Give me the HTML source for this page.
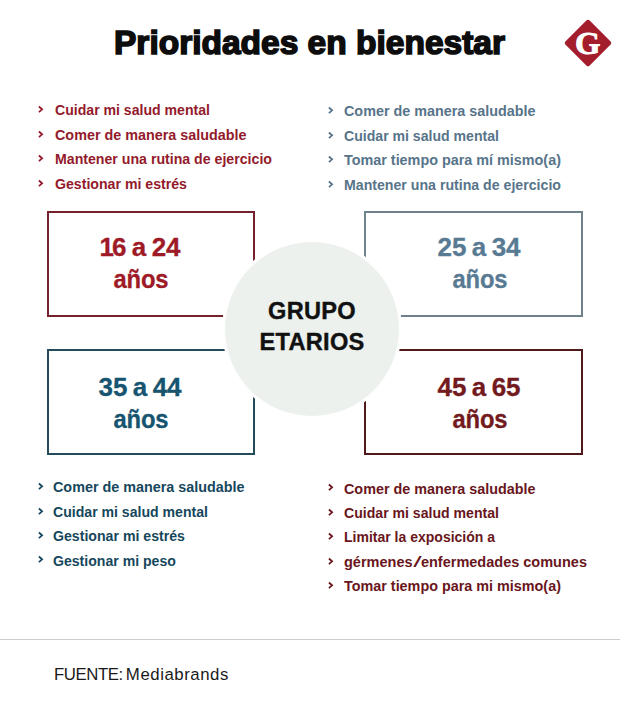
<!DOCTYPE html>
<html lang="es">
<head>
<meta charset="utf-8">
<title>Prioridades en bienestar</title>
<style>
  html, body { margin: 0; padding: 0; background: #fff; }
  body { width: 620px; height: 713px; position: relative; overflow: hidden;
         font-family: "Liberation Sans", Arial, sans-serif; }
  h1 { position: absolute; margin: 0; left: 114px; top: 22.9px; font-size: 33.5px; line-height: 40px;
       font-weight: 700; color: #0d0d0d; white-space: nowrap; -webkit-text-stroke: 1.6px #0d0d0d; }
  .logo { position: absolute; left: 571px; top: 26px; width: 34px; height: 34px; background: #a31d2c;
          transform: rotate(45deg); border-radius: 2px; }
  .logoG { position: absolute; left: 563.6px; top: 22.4px; width: 48px; height: 42px; text-align: center;
           font-family: "Liberation Serif", serif; font-weight: 700; font-size: 32.6px; line-height: 42px; color: #fff;
           -webkit-text-stroke: 0.9px #fff; }
  ul.list { position: absolute; margin: 0; padding: 0; list-style: none; font-size: 15px; font-weight: 700;
            line-height: 24.45px; white-space: nowrap; letter-spacing: 0px; }
  ul.list li { position: relative; height: 24.45px; }
  ul.list li .t { display: inline-block; transform-origin: 0 0; transform: scaleX(0.945); }
  ul.list li svg { position: absolute; left: var(--cx); top: 7.9px; width: 6px; height: 8px; overflow: visible; }
  .box { position: absolute; box-sizing: border-box; border: 2px solid; }
  .circle { position: absolute; left: 225.3px; top: 242px; width: 174px; height: 174px; border-radius: 50%;
            background: #ecf1ed; box-shadow: 0 0 0 3px #fff; }
  .age { position: absolute; width: 160px; font-weight: 700; font-size: 26px; line-height: 32px; text-align: center;
         white-space: nowrap; word-spacing: -1.8px; -webkit-text-stroke: 0.3px currentColor; }
  .age .y { display: inline-block; letter-spacing: -0.2px; transform: scaleX(0.915); position: relative; left: 1px; }
  .grupo { position: absolute; left: 212px; top: 295.5px; width: 200px; text-align: center; font-weight: 700;
           font-size: 23.6px; line-height: 31.7px; color: #111; letter-spacing: 0.3px; -webkit-text-stroke: 0.4px #111; }
  .rule { position: absolute; left: 0; top: 639px; width: 620px; height: 1px; background: #cdcdcd; }
  .src { position: absolute; left: 54px; top: 665px; font-size: 16.8px; line-height: 20px; color: #1a1a1a; white-space: nowrap; }
</style>
</head>
<body>
  <h1>Prioridades en bienestar</h1>
  <div class="logo"></div>
  <div class="logoG">G</div>

  <ul class="list" style="--cx:-17px; left:54.7px; top:98.3px; color:#931a2b;">
    <li><svg viewBox="0 0 6 8"><polyline points="0.9,0.5 4.1,3.3 0.9,6.1" fill="none" stroke="currentColor" stroke-width="1.75"/></svg><span class="t" style="transform:scaleX(0.939)">Cuidar mi salud mental</span></li>
    <li><svg viewBox="0 0 6 8"><polyline points="0.9,0.5 4.1,3.3 0.9,6.1" fill="none" stroke="currentColor" stroke-width="1.75"/></svg><span class="t" style="transform:scaleX(0.957)">Comer de manera saludable</span></li>
    <li><svg viewBox="0 0 6 8"><polyline points="0.9,0.5 4.1,3.3 0.9,6.1" fill="none" stroke="currentColor" stroke-width="1.75"/></svg><span class="t" style="transform:scaleX(0.943)">Mantener una rutina de ejercicio</span></li>
    <li><svg viewBox="0 0 6 8"><polyline points="0.9,0.5 4.1,3.3 0.9,6.1" fill="none" stroke="currentColor" stroke-width="1.75"/></svg><span class="t" style="transform:scaleX(0.942)">Gestionar mi estrés</span></li>
  </ul>
  <ul class="list" style="--cx:-15.8px; left:343.7px; top:99.4px; color:#57748a;">
    <li><svg viewBox="0 0 6 8"><polyline points="0.9,0.5 4.1,3.3 0.9,6.1" fill="none" stroke="currentColor" stroke-width="1.75"/></svg><span class="t" style="transform:scaleX(0.957)">Comer de manera saludable</span></li>
    <li><svg viewBox="0 0 6 8"><polyline points="0.9,0.5 4.1,3.3 0.9,6.1" fill="none" stroke="currentColor" stroke-width="1.75"/></svg><span class="t" style="transform:scaleX(0.939)">Cuidar mi salud mental</span></li>
    <li><svg viewBox="0 0 6 8"><polyline points="0.9,0.5 4.1,3.3 0.9,6.1" fill="none" stroke="currentColor" stroke-width="1.75"/></svg><span class="t" style="transform:scaleX(0.958)">Tomar tiempo para mí mismo(a)</span></li>
    <li><svg viewBox="0 0 6 8"><polyline points="0.9,0.5 4.1,3.3 0.9,6.1" fill="none" stroke="currentColor" stroke-width="1.75"/></svg><span class="t" style="transform:scaleX(0.943)">Mantener una rutina de ejercicio</span></li>
  </ul>

  <div class="box" style="left:47px; top:211px; width:208px; height:106px; border-color:#73222d;"></div>
  <div class="box" style="left:364px; top:211px; width:219px; height:106px; border-color:#6e828c;"></div>
  <div class="box" style="left:47px; top:349px; width:208px; height:106px; border-color:#234b5a;"></div>
  <div class="box" style="left:364px; top:349px; width:219px; height:106px; border-color:#4e1a1c;"></div>

  <div class="age" style="left:60px; top:230.5px; color:#9e1a26;"><span style="letter-spacing:-2px">1</span>6 a 24<br><span class="y">años</span></div>
  <div class="age" style="left:399px; top:230.5px; color:#587a93;">25 a 34<br><span class="y">años</span></div>
  <div class="age" style="left:60px; top:370.5px; color:#175470;">35 a 44<br><span class="y">años</span></div>
  <div class="age" style="left:399px; top:370.5px; color:#721a1e;">45 a 65<br><span class="y">años</span></div>

  <div class="circle"></div>
  <div class="grupo">GRUPO<br>ETARIOS</div>

  <ul class="list" style="--cx:-15px; left:52.9px; top:475.2px; color:#16475c;">
    <li><svg viewBox="0 0 6 8"><polyline points="0.9,0.5 4.1,3.3 0.9,6.1" fill="none" stroke="currentColor" stroke-width="1.75"/></svg><span class="t" style="transform:scaleX(0.957)">Comer de manera saludable</span></li>
    <li><svg viewBox="0 0 6 8"><polyline points="0.9,0.5 4.1,3.3 0.9,6.1" fill="none" stroke="currentColor" stroke-width="1.75"/></svg><span class="t" style="transform:scaleX(0.939)">Cuidar mi salud mental</span></li>
    <li><svg viewBox="0 0 6 8"><polyline points="0.9,0.5 4.1,3.3 0.9,6.1" fill="none" stroke="currentColor" stroke-width="1.75"/></svg><span class="t" style="transform:scaleX(0.942)">Gestionar mi estrés</span></li>
    <li><svg viewBox="0 0 6 8"><polyline points="0.9,0.5 4.1,3.3 0.9,6.1" fill="none" stroke="currentColor" stroke-width="1.75"/></svg><span class="t" style="transform:scaleX(0.939)">Gestionar mi peso</span></li>
  </ul>
  <ul class="list" style="--cx:-15.8px; left:343.7px; top:476.5px; color:#69161c;">
    <li><svg viewBox="0 0 6 8"><polyline points="0.9,0.5 4.1,3.3 0.9,6.1" fill="none" stroke="currentColor" stroke-width="1.75"/></svg><span class="t" style="transform:scaleX(0.957)">Comer de manera saludable</span></li>
    <li><svg viewBox="0 0 6 8"><polyline points="0.9,0.5 4.1,3.3 0.9,6.1" fill="none" stroke="currentColor" stroke-width="1.75"/></svg><span class="t" style="transform:scaleX(0.939)">Cuidar mi salud mental</span></li>
    <li><svg viewBox="0 0 6 8"><polyline points="0.9,0.5 4.1,3.3 0.9,6.1" fill="none" stroke="currentColor" stroke-width="1.75"/></svg><span class="t" style="transform:scaleX(0.934)">Limitar la exposición a</span></li>
    <li><svg viewBox="0 0 6 8"><polyline points="0.9,0.5 4.1,3.3 0.9,6.1" fill="none" stroke="currentColor" stroke-width="1.75"/></svg><span class="t" style="transform:scaleX(0.967)">gérmenes<span style="display:inline-block; font-weight:400; transform:scaleX(2.1); margin:0 1.2px 0 3.3px">/</span>enfermedades comunes</span></li>
    <li><svg viewBox="0 0 6 8"><polyline points="0.9,0.5 4.1,3.3 0.9,6.1" fill="none" stroke="currentColor" stroke-width="1.75"/></svg><span class="t" style="transform:scaleX(0.958)">Tomar tiempo para mi mismo(a)</span></li>
  </ul>

  <div class="rule"></div>
  <div class="src"><span style="letter-spacing:-0.45px">FUENTE:</span><span style="word-spacing:-1.45px"> </span><span style="letter-spacing:0.55px">Mediabrands</span></div>
</body>
</html>
